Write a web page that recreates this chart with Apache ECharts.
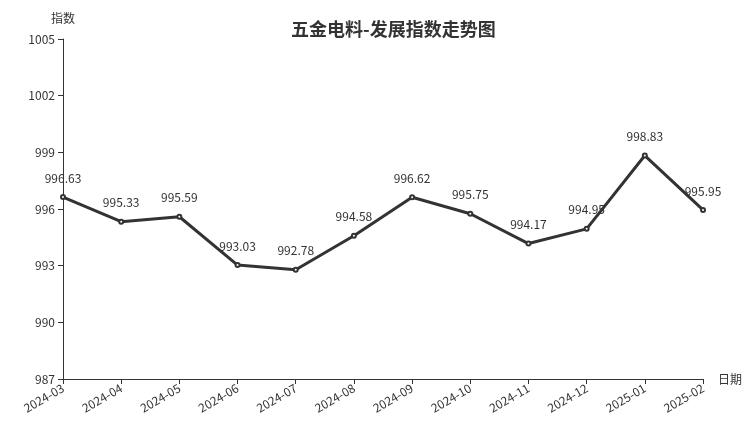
<!DOCTYPE html>
<html><head><meta charset="utf-8">
<script src="https://cdn.jsdelivr.net/npm/echarts@6/dist/echarts.min.js"></script>
<style>html,body{margin:0;padding:0;background:#fff}#c{width:752px;height:427px}</style>
</head><body><div id="c"></div>
<script>
const categories = ['2024-03','2024-04','2024-05','2024-06','2024-07','2024-08','2024-09','2024-10','2024-11','2024-12','2025-01','2025-02'];
const values = [996.63, 995.33, 995.59, 993.03, 992.78, 994.58, 996.62, 995.75, 994.17, 994.95, 998.83, 995.95];
const titleText = '五金电料-发展指数走势图';
const yName = '指数';
const xName = '日期';

const chart = echarts.init(document.getElementById('c'));
const font = '"Noto Sans CJK SC", "Noto Sans", sans-serif';
chart.setOption({
  animation: false,
  textStyle: { fontFamily: font },
  title: { text: titleText, left: 286, top: 15, textStyle: { fontSize: 18, fontWeight: 'bold', color: '#333', fontFamily: font } },
  grid: { left: 63, right: 49, top: 39, bottom: 48 },
  xAxis: {
    type: 'category', data: categories, boundaryGap: false,
    name: xName, nameGap: 15, nameTextStyle: { color: '#333', fontSize: 12 },
    axisLine: { lineStyle: { color: '#333' } },
    axisTick: { alignWithLabel: true, lineStyle: { color: '#333' } },
    axisLabel: { rotate: 30, color: '#333', fontSize: 12, interval: 0, margin: 8 }
  },
  yAxis: {
    type: 'value', min: 987, max: 1005, interval: 3,
    name: yName, nameGap: 15, nameTextStyle: { color: '#333', fontSize: 12, align: 'center' },
    axisLine: { show: true, lineStyle: { color: '#333' } },
    axisTick: { show: true, lineStyle: { color: '#333' } },
    axisLabel: { color: '#333', fontSize: 12, formatter: v => String(v) },
    splitLine: { show: false }
  },
  series: [{
    type: 'line', data: values,
    symbol: 'emptyCircle', symbolSize: 4,
    lineStyle: { color: '#333', width: 3 },
    itemStyle: { color: '#333' },
    label: { show: true, position: 'top', color: '#333', fontSize: 12, distance: 10 }
  }]
});
</script></body></html>
